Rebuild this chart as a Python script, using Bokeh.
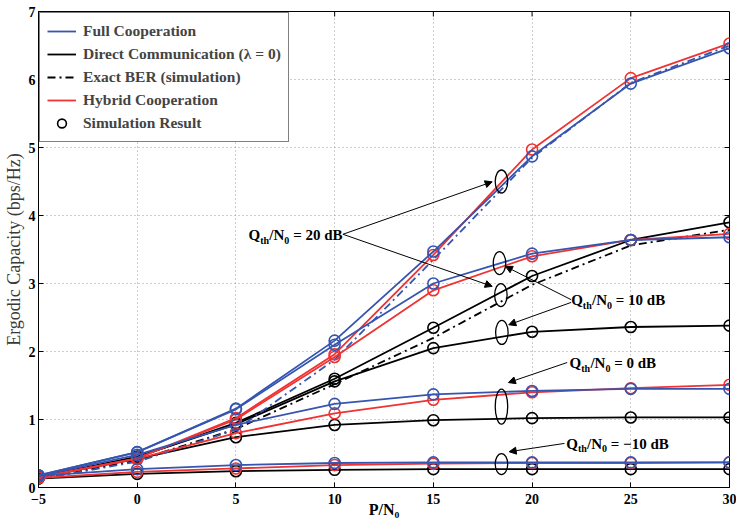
import math
from bokeh.plotting import figure
from bokeh.models import (Range1d, FixedTicker, Legend, LegendItem,
                          Label, Arrow, NormalHead)
from bokeh.embed import file_html
from bokeh.resources import INLINE

# ---------------- data ----------------
snr_db = [-5, 0, 5, 10, 15, 20, 25, 30]
x_ticks = [-5, 0, 5, 10, 15, 20, 25, 30]
y_ticks = [0, 1, 2, 3, 4, 5, 6, 7]

# Qth/N0 = 20 dB
full_20 = [0.18, 0.52, 1.16, 2.16, 3.47, 4.87, 5.94, 6.46]
hybrid_20 = [0.15, 0.43, 1.02, 1.96, 3.42, 4.97, 6.02, 6.53]
direct_20 = [0.15, 0.45, 0.95, 1.60, 2.35, 3.11, 3.64, 3.90]
exact_full_20 = [0.12, 0.38, 0.85, 1.88, 3.35, 4.85, 5.95, 6.50]
exact_direct_20 = [0.12, 0.40, 0.86, 1.52, 2.20, 2.98, 3.56, 3.79]
# Qth/N0 = 10 dB
full_10 = [0.18, 0.52, 1.15, 2.10, 3.00, 3.44, 3.64, 3.68]
hybrid_10 = [0.15, 0.43, 1.00, 1.92, 2.90, 3.40, 3.64, 3.73]
direct_10 = [0.15, 0.45, 0.93, 1.56, 2.05, 2.29, 2.36, 2.38]
# Qth/N0 = 0 dB
full_0 = [0.17, 0.48, 0.92, 1.23, 1.37, 1.42, 1.45, 1.45]
hybrid_0 = [0.15, 0.42, 0.80, 1.09, 1.29, 1.40, 1.46, 1.51]
direct_0 = [0.15, 0.42, 0.74, 0.92, 0.99, 1.02, 1.03, 1.03]
# Qth/N0 = -10 dB
full_m10 = [0.17, 0.27, 0.33, 0.36, 0.37, 0.37, 0.37, 0.37]
hybrid_m10 = [0.14, 0.23, 0.28, 0.33, 0.35, 0.36, 0.36, 0.37]
direct_m10 = [0.13, 0.20, 0.24, 0.26, 0.27, 0.27, 0.27, 0.27]

legend_labels = ["Full Cooperation", "Direct Communication (\u03bb = 0)",
                 "Exact BER (simulation)", "Hybrid Cooperation", "Simulation Result"]
x_title = "P/N\u2080"
y_title = "Ergodic Capacity (bps/Hz)"

# annotations: (x, y) in data units
ellipses_x = [18.45, 18.42, 18.35, 18.47, 18.45, 18.45]
ellipses_y = [4.50, 2.83, 3.30, 2.28, 1.19, 0.345]
ellipses_h = [23, 23, 23, 24, 35, 21]

q_texts = ["= 20 dB", "= 10 dB", "= 0 dB", "= \u221210 dB"]
q_pos = [(5.64, 3.709), (21.98, 2.751), (21.90, 1.827), (21.73, 0.640)]
arrows = [((10.42, 3.724), (17.98, 4.495)),
          ((10.42, 3.724), (17.98, 2.958)),
          ((21.98, 2.762), (18.65, 3.252)),
          ((21.98, 2.722), (18.82, 2.393)),
          ((21.78, 1.838), (18.80, 1.543)),
          ((21.64, 0.648), (18.84, 0.526))]

# ---------------- styling ----------------
BLUE = "#3555b0"
RED = "#f03232"
BLACK = "#000000"
FONT = "Liberation Serif"
LW = 1.8

p = figure(width=736, height=524, x_range=Range1d(-5, 30), y_range=Range1d(0, 7),
           output_backend="svg", toolbar_location=None,
           min_border_left=35, min_border_right=7, min_border_top=11, min_border_bottom=37)
p.outline_line_color = "black"
p.outline_line_width = 1
p.background_fill_color = "white"
p.border_fill_color = "white"

for ax in (p.xaxis[0], p.yaxis[0]):
    ax.major_tick_in = 5
    ax.major_tick_out = 0
    ax.minor_tick_line_color = None
    ax.axis_line_color = "black"
    ax.major_label_text_font = FONT
    ax.major_label_text_font_style = "bold"
    ax.major_label_text_font_size = "14px"
    ax.major_label_text_color = "black"
    ax.axis_label_text_font = FONT
    ax.axis_label_text_color = "black"
p.xaxis[0].ticker = FixedTicker(ticks=x_ticks)
p.yaxis[0].ticker = FixedTicker(ticks=y_ticks)
p.xaxis[0].major_label_overrides = {-5: "\u22125"}
p.xaxis[0].major_label_standoff = 6
p.yaxis[0].major_label_standoff = 3

p.xaxis[0].axis_label = x_title
p.xaxis[0].axis_label_text_font_style = "bold"
p.xaxis[0].axis_label_text_font_size = "16px"
p.xaxis[0].axis_label_standoff = -6

p.yaxis[0].axis_label = y_title
p.yaxis[0].axis_label_text_font_style = "normal"
p.yaxis[0].axis_label_text_font_size = "18px"
p.yaxis[0].axis_label_text_color = "#3a3a3a"
p.yaxis[0].axis_label_standoff = 2

p.xgrid.ticker = FixedTicker(ticks=x_ticks)
p.ygrid.ticker = FixedTicker(ticks=y_ticks)
for g in (p.xgrid[0], p.ygrid[0]):
    g.grid_line_color = "#9a9a9a"
    g.grid_line_dash = "1 3"
    g.grid_line_width = 1

# inward ticks on the top and right frame edges
p.ray(x=x_ticks, y=[max(y_ticks)] * len(x_ticks), length=5, length_units="screen",
      angle=-math.pi / 2, line_color="black", line_width=1)
p.ray(x=[max(x_ticks)] * len(y_ticks), y=y_ticks, length=5, length_units="screen",
      angle=math.pi, line_color="black", line_width=1)

# ---------------- curves ----------------
def curve(y, color, dash="solid", markers=True):
    r = p.line(snr_db, y, line_color=color, line_width=LW, line_dash=dash)
    m = None
    if markers:
        m = p.scatter(snr_db, y, marker="circle", size=11, fill_color=None,
                      line_color=color, line_width=1.6)
    return r, m

r_direct, r_sim = curve(direct_20, BLACK)
curve(direct_10, BLACK)
curve(direct_0, BLACK)
curve(direct_m10, BLACK)
r_exact = p.line(snr_db, exact_direct_20, line_color=BLACK, line_width=LW, line_dash="8 4 2 4")
p.line(snr_db, exact_full_20, line_color=BLUE, line_width=LW, line_dash="8 4 2 4")
r_hybrid, _ = curve(hybrid_20, RED)
curve(hybrid_10, RED)
curve(hybrid_0, RED)
curve(hybrid_m10, RED)
r_full, _ = curve(full_20, BLUE)
curve(full_10, BLUE)
curve(full_0, BLUE)
curve(full_m10, BLUE)

# ---------------- annotations ----------------
p.ellipse(x=ellipses_x, y=ellipses_y, width=[12.5] * len(ellipses_x), height=ellipses_h,
          width_units="screen", height_units="screen",
          fill_color=None, line_color="black", line_width=1.3)

for (xs, ys), (xe, ye) in arrows:
    p.add_layout(Arrow(x_start=xs, y_start=ys, x_end=xe, y_end=ye, line_width=1,
                       line_color="black",
                       end=NormalHead(size=7, fill_color="black", line_color="black")))

def add_text(x, y, txt, size, dx=0, dy=0):
    p.add_layout(Label(x=x, y=y, text=txt, x_offset=dx, y_offset=dy,
                       text_font=FONT, text_font_style="bold",
                       text_font_size=f"{size}px", text_color="black",
                       text_align="left", text_baseline="alphabetic"))

for (qx, qy), tail in zip(q_pos, q_texts):
    add_text(qx, qy, "Q", 15)
    add_text(qx, qy, "th", 10, dx=11.7, dy=-5)
    add_text(qx, qy, "/N", 15, dx=20.8)
    add_text(qx, qy, "0", 10, dx=35.8, dy=-5)
    add_text(qx, qy, tail, 15, dx=44.6)

# ---------------- legend ----------------
legend = Legend(items=[
    LegendItem(label=legend_labels[0], renderers=[r_full]),
    LegendItem(label=legend_labels[1], renderers=[r_direct]),
    LegendItem(label=legend_labels[2], renderers=[r_exact]),
    LegendItem(label=legend_labels[3], renderers=[r_hybrid]),
    LegendItem(label=legend_labels[4], renderers=[r_sim]),
], location="top_left")
legend.margin = 1
legend.padding = 7
legend.spacing = 1
legend.label_height = 22
legend.glyph_height = 22
legend.glyph_width = 29
legend.label_standoff = 7
legend.label_text_font = FONT
legend.label_text_font_style = "bold"
legend.label_text_font_size = "15.5px"
legend.border_line_color = "black"
legend.border_line_width = 1
legend.background_fill_alpha = 1
p.add_layout(legend)

open("out.html", "w").write(file_html(p, INLINE))
